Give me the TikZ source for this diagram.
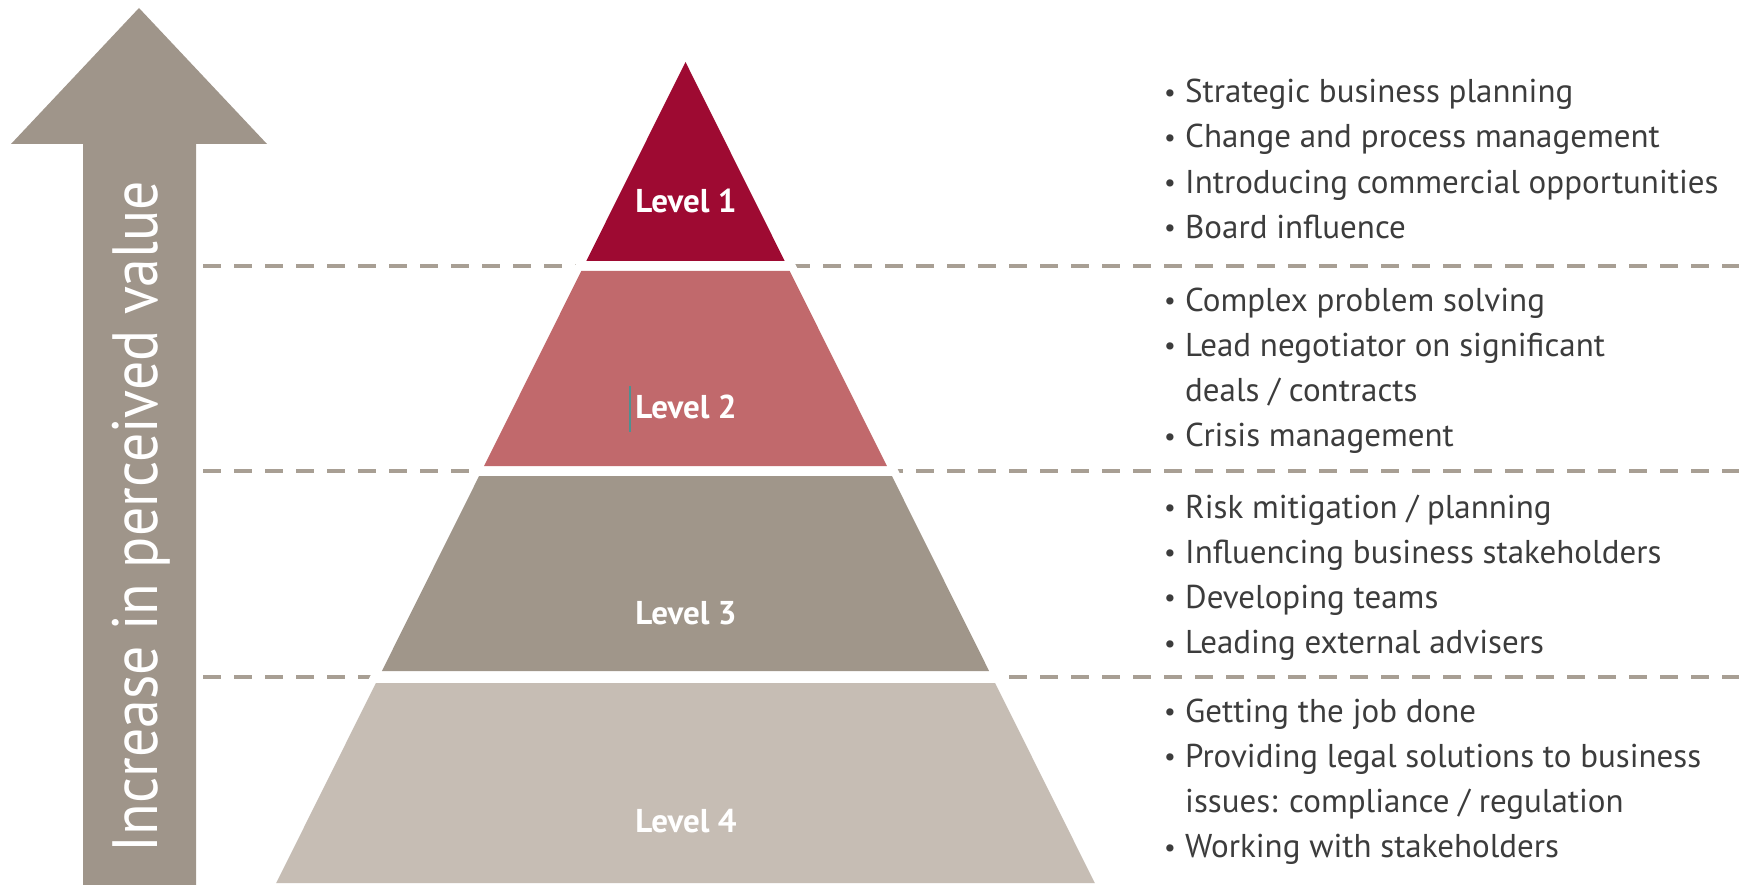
\documentclass[tikz,border=0pt]{standalone}
\usepackage{fontspec}
\setmainfont{PT Sans}
\usepackage{graphicx}
\definecolor{arrowgray}{HTML}{9F958A}
\definecolor{dashgray}{HTML}{A89F94}
\definecolor{lvlone}{HTML}{9E0A32}
\definecolor{lvltwo}{HTML}{C1696C}
\definecolor{lvlthree}{HTML}{A0968A}
\definecolor{lvlfour}{HTML}{C6BDB4}
\definecolor{bodytext}{HTML}{3C3C3C}
\definecolor{cursorteal}{HTML}{4E9191}
\newcommand{\itm}[1]{\makebox[21pt][l]{\raisebox{1.5pt}{\fontsize{26}{26}\selectfont\textbullet}}#1}
\newcommand{\cnt}[1]{\hspace*{21pt}#1}
\tikzset{
  dashline/.style={draw=dashgray, line width=4.5pt, dash pattern=on 18pt off 13pt},
  lvllabel/.style={anchor=base, inner sep=0pt, text=white, font=\fontsize{33}{33}\selectfont\bfseries},
  itemlist/.style={anchor=base west, inner sep=0pt, text=bodytext, font=\fontsize{33}{45.2}\selectfont},
}
\begin{document}
\begin{tikzpicture}[x=1pt,y=-1pt]
\useasboundingbox (0,0) rectangle (1739,885);

% upward arrow
\fill[arrowgray] (139,8) -- (267,144) -- (196,144) -- (196,885) -- (83,885) -- (83,144) -- (11,144) -- cycle;
\node[rotate=90, anchor=base, inner sep=0pt, text=white, font=\fontsize{64}{64}\selectfont]
  (axis) at (157,516.5) {\resizebox{671pt}{\height}{Increase in perceived value}};

% dashed separators
\coordinate (d1a) at (203,266);  \coordinate (d1b) at (1739,266);
\coordinate (d2a) at (203,471);  \coordinate (d2b) at (1739,471);
\coordinate (d3a) at (203,677);  \coordinate (d3b) at (1739,677);
\draw[dashline] (d1a) -- (d1b);
\draw[dashline] (d2a) -- (d2b);
\draw[dashline] (d3a) -- (d3b);

% white margin around the pyramid
\fill[white] (685.5,44) -- (266,885) -- (1105,885) -- cycle;

% pyramid bands
\fill[lvlone]   (685.5,62) -- (784.7,261) -- (586.3,261) -- cycle;
\fill[lvltwo]   (581.3,271) -- (789.7,271) -- (886.9,466) -- (484.1,466) -- cycle;
\fill[lvlthree] (479.1,476) -- (891.9,476) -- (989.1,671) -- (381.9,671) -- cycle;
\fill[lvlfour]  (375.9,683) -- (995.1,683) -- (1094.8,883) -- (276.2,883) -- cycle;

\node[lvllabel] (l1) at (686,213) {Level 1};
\node[lvllabel] (l2) at (686,418) {Level 2};
\node[lvllabel] (l3) at (686,624) {Level 3};
\node[lvllabel] (l4) at (686,832) {Level 4};
\draw[cursorteal, line width=2.5pt] (630,386) -- (630,432);

% descriptions
\node[itemlist] (g1) at (1164,102.7) {\begin{tabular}[t]{@{}l@{}}
\itm{Strategic business planning}\\
\itm{Change and process management}\\
\itm{Introducing commercial opportunities}\\
\itm{Board influence}
\end{tabular}};
\node[itemlist] (g2) at (1164,311) {\begin{tabular}[t]{@{}l@{}}
\itm{Complex problem solving}\\
\itm{Lead negotiator on significant}\\
\cnt{deals / contracts}\\
\itm{Crisis management}
\end{tabular}};
\node[itemlist] (g3) at (1164,518) {\begin{tabular}[t]{@{}l@{}}
\itm{Risk mitigation / planning}\\
\itm{Influencing business stakeholders}\\
\itm{Developing teams}\\
\itm{Leading external advisers}
\end{tabular}};
\node[itemlist] (g4) at (1164,722) {\begin{tabular}[t]{@{}l@{}}
\itm{Getting the job done}\\
\itm{Providing legal solutions to business}\\
\cnt{issues: compliance / regulation}\\
\itm{Working with stakeholders}
\end{tabular}};
\end{tikzpicture}
\end{document}
